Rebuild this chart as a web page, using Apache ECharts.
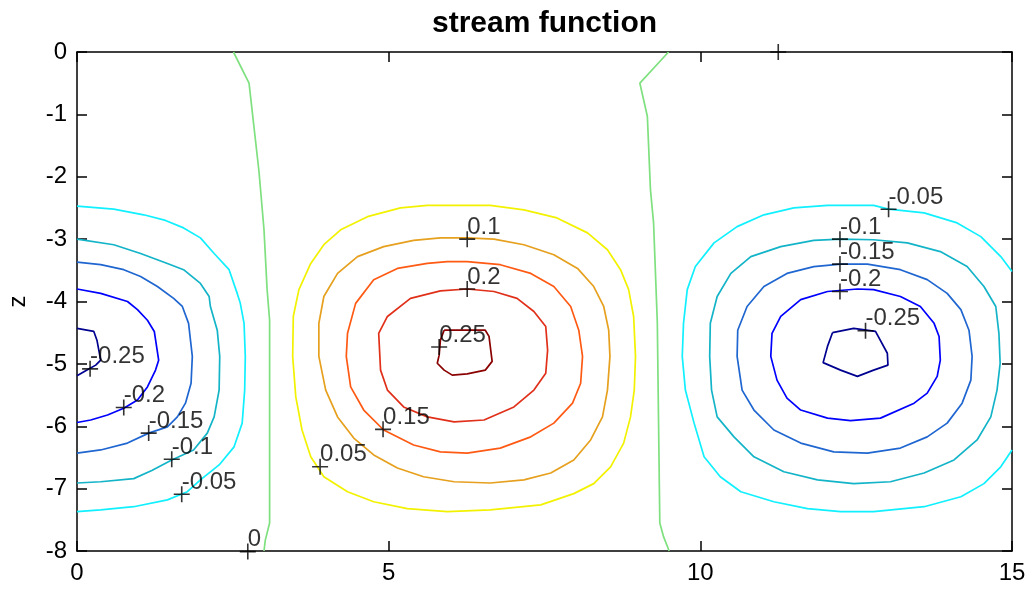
<!DOCTYPE html>
<html>
<head>
<meta charset="utf-8">
<title>stream function</title>
<script src="https://cdn.jsdelivr.net/npm/echarts@6/dist/echarts.min.js"></script>
<style>
  html, body { margin: 0; padding: 0; background: #ffffff; }
  #chart { width: 1029px; height: 591px; }
</style>
</head>
<body>
<div id="chart"></div>
<script>
// Contour levels of the stream function and their line colours
const levels = [-0.25, -0.2, -0.15, -0.1, -0.05, 0, 0.05, 0.1, 0.15, 0.2, 0.25];
const levelColors = ['#000090', '#0000ff', '#1f66d0', '#14b4c8', '#10f0ff', '#7ee07e',
                     '#f2f200', '#e6a01e', '#ff5a14', '#e0301a', '#8a0000'];

// Axis ticks
const xTicks = [0, 5, 10, 15];
const zTicks = [0, -1, -2, -3, -4, -5, -6, -7, -8];

// Left cell (negative values), contours open at x = 0
const leftM005 = [[0,-2.47],[0.59,-2.52],[1.07,-2.61],[1.42,-2.70],[1.71,-2.82],[1.98,-2.98],[2.20,-3.23],[2.44,-3.49],[2.57,-3.87],[2.62,-4.03],[2.68,-4.35],[2.70,-4.88],[2.69,-5.42],[2.65,-5.95],[2.52,-6.33],[2.28,-6.62],[1.98,-6.86],[1.77,-7.05],[1.45,-7.18],[0.91,-7.29],[0.38,-7.34],[0,-7.37]];
const leftM010 = [[0,-3.00],[0.59,-3.09],[1.02,-3.23],[1.45,-3.39],[1.71,-3.49],[1.98,-3.71],[2.12,-3.92],[2.14,-4.08],[2.25,-4.46],[2.29,-4.88],[2.28,-5.42],[2.20,-5.85],[2.09,-6.11],[1.87,-6.38],[1.52,-6.54],[1.20,-6.71],[0.91,-6.84],[0.38,-6.89],[0,-6.91]];
const leftM015 = [[0,-3.37],[0.38,-3.41],[0.75,-3.49],[1.02,-3.60],[1.29,-3.76],[1.55,-3.95],[1.69,-4.08],[1.79,-4.35],[1.85,-4.88],[1.83,-5.31],[1.74,-5.63],[1.61,-5.85],[1.45,-6.01],[1.15,-6.11],[0.81,-6.27],[0.38,-6.38],[0,-6.43]];
const leftM020 = [[0,-3.80],[0.38,-3.87],[0.81,-4.00],[0.97,-4.13],[1.13,-4.30],[1.24,-4.48],[1.31,-4.94],[1.26,-5.10],[1.13,-5.37],[0.97,-5.58],[0.75,-5.71],[0.49,-5.82],[0.22,-5.90],[0,-5.94]];
const leftM025 = [[0,-4.43],[0.27,-4.48],[0.32,-4.62],[0.38,-4.94],[0.30,-5.02],[0.16,-5.10],[0,-5.19]];

// Zero lines between the cells
const zeroLeft = [[2.51,0],[2.76,-0.50],[2.92,-1.92],[3.00,-2.85],[3.05,-3.81],[3.09,-4.30],[3.09,-5.50],[3.09,-7.55],[3.02,-7.83],[3.00,-8]];
const zeroRight = [[9.49,0],[9.03,-0.50],[9.15,-1.03],[9.20,-2.21],[9.25,-2.74],[9.31,-4.34],[9.33,-5.95],[9.35,-7.55],[9.41,-7.77],[9.50,-8]];

// Middle cell (positive values), closed contours
const midP005 = [[5.94,-2.46],[6.63,-2.46],[7.17,-2.53],[7.70,-2.66],[8.19,-2.90],[8.51,-3.17],[8.72,-3.49],[8.85,-3.81],[8.93,-4.24],[8.96,-4.88],[8.94,-5.42],[8.88,-5.85],[8.77,-6.27],[8.56,-6.65],[8.29,-6.92],[7.97,-7.08],[7.44,-7.26],[6.63,-7.34],[5.94,-7.37],[5.30,-7.32],[4.76,-7.21],[4.34,-7.05],[3.96,-6.81],[3.75,-6.49],[3.61,-6.06],[3.51,-5.53],[3.46,-4.88],[3.47,-4.24],[3.56,-3.81],[3.75,-3.39],[3.96,-3.09],[4.23,-2.85],[4.66,-2.64],[5.19,-2.50],[5.62,-2.46],[5.94,-2.46]];
const midP010 = [[6.26,-2.98],[6.69,-3.00],[7.17,-3.09],[7.65,-3.25],[8.03,-3.47],[8.29,-3.76],[8.45,-4.08],[8.53,-4.46],[8.55,-4.88],[8.51,-5.42],[8.43,-5.85],[8.24,-6.22],[7.97,-6.54],[7.60,-6.75],[7.17,-6.86],[6.63,-6.91],[6.05,-6.89],[5.56,-6.81],[5.14,-6.67],[4.76,-6.46],[4.44,-6.19],[4.18,-5.85],[3.99,-5.42],[3.88,-4.88],[3.88,-4.35],[3.96,-3.92],[4.18,-3.55],[4.50,-3.28],[4.92,-3.12],[5.40,-3.02],[5.83,-2.98],[6.26,-2.98]];
const midP015 = [[6.26,-3.36],[6.79,-3.41],[7.28,-3.55],[7.65,-3.76],[7.92,-4.08],[8.05,-4.46],[8.11,-4.88],[8.08,-5.31],[7.95,-5.63],[7.65,-5.95],[7.28,-6.17],[6.79,-6.35],[6.26,-6.43],[5.83,-6.41],[5.40,-6.30],[4.92,-6.06],[4.60,-5.74],[4.39,-5.37],[4.32,-4.88],[4.34,-4.51],[4.47,-4.03],[4.76,-3.65],[5.14,-3.47],[5.62,-3.39],[5.94,-3.36],[6.26,-3.36]];
const midP020 = [[6.26,-3.80],[6.69,-3.84],[7.06,-3.95],[7.33,-4.16],[7.52,-4.40],[7.55,-4.78],[7.52,-5.15],[7.33,-5.42],[7.01,-5.69],[6.53,-5.90],[6.05,-5.93],[5.62,-5.85],[5.24,-5.69],[4.98,-5.42],[4.87,-5.10],[4.84,-4.51],[4.98,-4.24],[5.35,-3.95],[5.83,-3.83],[6.26,-3.80]];
const midP025 = [[5.89,-4.46],[6.55,-4.46],[6.61,-4.56],[6.66,-4.96],[6.55,-5.10],[6.26,-5.16],[6.02,-5.18],[5.89,-5.10],[5.78,-4.99],[5.81,-4.86],[5.83,-4.62],[5.89,-4.46]];

// Right cell (negative values); the outer contour leaves through x = 15
const rightM005 = [[15,-3.52],[14.82,-3.28],[14.50,-2.96],[14.12,-2.74],[13.59,-2.58],[13.02,-2.52],[12.78,-2.46],[12.04,-2.46],[11.50,-2.50],[11.02,-2.61],[10.59,-2.80],[10.22,-3.06],[9.92,-3.44],[9.79,-3.81],[9.73,-4.35],[9.71,-4.88],[9.76,-5.42],[9.90,-5.95],[10.06,-6.49],[10.32,-6.81],[10.65,-7.05],[11.18,-7.21],[11.72,-7.32],[12.25,-7.37],[12.78,-7.37],[13.59,-7.29],[14.18,-7.13],[14.55,-6.92],[14.82,-6.65],[15,-6.38]];
const rightM010 = [[12.25,-3.00],[12.78,-3.01],[13.32,-3.06],[13.85,-3.20],[14.28,-3.44],[14.55,-3.76],[14.74,-4.08],[14.79,-4.51],[14.81,-4.99],[14.76,-5.42],[14.66,-5.85],[14.44,-6.22],[14.07,-6.54],[13.59,-6.75],[13.05,-6.89],[12.46,-6.92],[11.88,-6.86],[11.34,-6.73],[10.86,-6.49],[10.54,-6.17],[10.27,-5.85],[10.18,-5.42],[10.15,-4.88],[10.16,-4.35],[10.27,-3.92],[10.49,-3.55],[10.81,-3.28],[11.29,-3.12],[11.82,-3.02],[12.25,-3.00]];
const rightM015 = [[12.25,-3.40],[12.68,-3.40],[13.21,-3.49],[13.64,-3.65],[13.96,-3.87],[14.18,-4.13],[14.31,-4.46],[14.36,-4.88],[14.34,-5.26],[14.20,-5.63],[13.96,-5.95],[13.64,-6.17],[13.21,-6.35],[12.68,-6.43],[12.14,-6.41],[11.61,-6.27],[11.18,-6.06],[10.86,-5.74],[10.67,-5.42],[10.59,-4.88],[10.60,-4.46],[10.75,-4.08],[11.02,-3.76],[11.39,-3.55],[11.82,-3.44],[12.25,-3.40]];
const rightM020 = [[12.04,-3.84],[12.52,-3.80],[12.78,-3.81],[13.21,-3.92],[13.53,-4.08],[13.75,-4.35],[13.83,-4.56],[13.85,-4.94],[13.80,-5.20],[13.64,-5.47],[13.43,-5.63],[12.89,-5.87],[12.41,-5.91],[12.04,-5.87],[11.61,-5.74],[11.39,-5.55],[11.23,-5.26],[11.13,-4.88],[11.15,-4.51],[11.29,-4.24],[11.61,-3.97],[12.04,-3.84]];
const rightM025 = [[12.12,-4.50],[12.46,-4.43],[12.81,-4.48],[13.00,-4.83],[13.01,-5.02],[12.78,-5.10],[12.52,-5.20],[12.25,-5.10],[11.97,-4.98],[12.04,-4.72],[12.12,-4.50]];

// Contour label anchors: x, z, text
const labelMarks = [
  [0.21, -5.08, '-0.25'], [0.75, -5.70, '-0.2'], [1.15, -6.11, '-0.15'],
  [1.52, -6.53, '-0.1'], [1.68, -7.09, '-0.05'], [2.74, -8.01, '0'],
  [3.90, -6.65, '0.05'], [4.91, -6.05, '0.15'], [5.81, -4.73, '0.25'],
  [6.26, -3.00, '0.1'], [6.26, -3.80, '0.2'],
  [13.02, -2.52, '-0.05'], [12.24, -3.00, '-0.1'], [12.24, -3.40, '-0.15'],
  [12.24, -3.84, '-0.2'], [12.65, -4.47, '-0.25'],
  [11.25, 0, '']
];

// Each contour line with its level
const contourLines = [
  [-0.05, leftM005], [-0.1, leftM010], [-0.15, leftM015], [-0.2, leftM020], [-0.25, leftM025],
  [0, zeroLeft], [0, zeroRight],
  [0.05, midP005], [0.1, midP010], [0.15, midP015], [0.2, midP020], [0.25, midP025],
  [-0.05, rightM005], [-0.1, rightM010], [-0.15, rightM015], [-0.2, rightM020], [-0.25, rightM025]
];

const FONT = "'Liberation Sans', Arial, Helvetica, sans-serif";
const PLUS = 'path://M0,9H20V11H0ZM9,0H11V20H9Z';

const series = contourLines.map(([lev, pts]) => ({
  type: 'line',
  data: pts,
  showSymbol: false,
  symbol: 'none',
  smooth: false,
  silent: true,
  animation: false,
  clip: true,
  lineStyle: { color: levelColors[levels.indexOf(lev)], width: 1.7 },
  z: 2
}));

series.push({
  type: 'scatter',
  data: labelMarks,
  symbol: PLUS,
  symbolSize: 16,
  clip: false,
  silent: true,
  animation: false,
  itemStyle: { color: '#000' },
  label: {
    show: true,
    formatter: p => p.data[2],
    position: [8, 8],
    align: 'left',
    verticalAlign: 'bottom',
    fontFamily: FONT,
    fontSize: 24,
    lineHeight: 24,
    color: '#000'
  },
  z: 5
});

const axisLineStyle = { color: '#000', width: 1.5 };
const tickStyle = { show: true, inside: true, length: 10, lineStyle: { color: '#000', width: 1.5 } };

const option = {
  backgroundColor: '#ffffff',
  animation: false,
  title: {
    text: 'stream function',
    left: 427,
    top: 4,
    textStyle: { fontFamily: FONT, fontSize: 30, fontWeight: 'bold', color: '#000' }
  },
  grid: { left: 77, top: 52, width: 935, height: 499, show: false, containLabel: false, outerBoundsMode: 'none' },
  xAxis: [
    {
      type: 'value', position: 'bottom', min: xTicks[0], max: xTicks[xTicks.length - 1], interval: 5,
      axisLine: { show: true, onZero: false, lineStyle: axisLineStyle },
      axisTick: tickStyle,
      axisLabel: { show: true, margin: 10, fontFamily: FONT, fontSize: 24, color: '#000' },
      splitLine: { show: false }
    },
    {
      type: 'value', position: 'top', min: xTicks[0], max: xTicks[xTicks.length - 1], interval: 5,
      axisLine: { show: true, onZero: false, lineStyle: axisLineStyle },
      axisTick: tickStyle,
      axisLabel: { show: false },
      splitLine: { show: false }
    }
  ],
  yAxis: [
    {
      type: 'value', position: 'left', min: zTicks[zTicks.length - 1], max: zTicks[0], interval: 1,
      name: 'z', nameLocation: 'middle', nameGap: 47, nameRotate: 90,
      nameTextStyle: { fontFamily: FONT, fontSize: 24, color: '#000' },
      axisLine: { show: true, onZero: false, lineStyle: axisLineStyle },
      axisTick: tickStyle,
      axisLabel: { show: true, margin: 10, fontFamily: FONT, fontSize: 24, color: '#000' },
      splitLine: { show: false }
    },
    {
      type: 'value', position: 'right', min: zTicks[zTicks.length - 1], max: zTicks[0], interval: 1,
      axisLine: { show: true, onZero: false, lineStyle: axisLineStyle },
      axisTick: tickStyle,
      axisLabel: { show: false },
      splitLine: { show: false }
    }
  ],
  series: series
};

const chart = echarts.init(document.getElementById('chart'), null, { renderer: 'canvas' });
chart.setOption(option);
</script>
</body>
</html>
